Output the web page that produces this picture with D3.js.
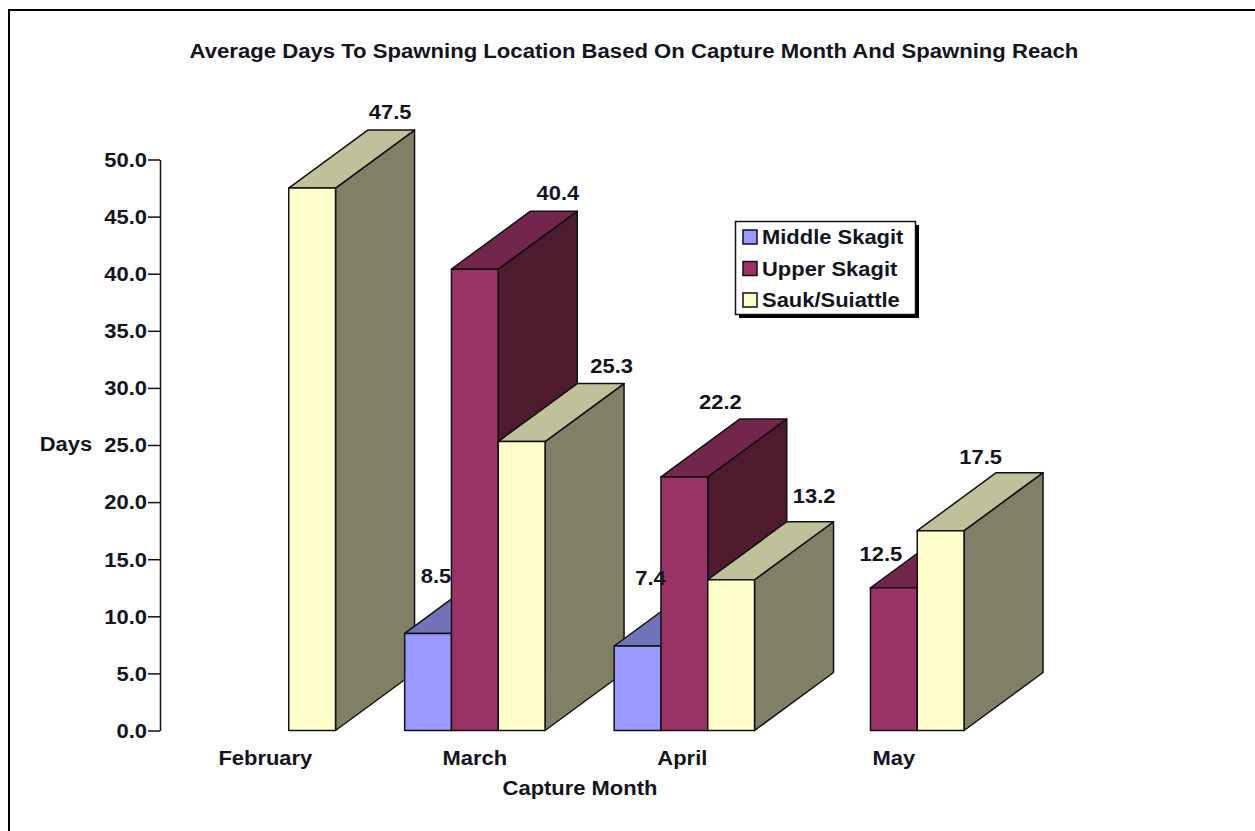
<!DOCTYPE html>
<html><head><meta charset="utf-8">
<script src="https://cdn.jsdelivr.net/npm/d3@7"></script>
<style>html,body{margin:0;padding:0;background:#fff}svg{display:block}text{font-family:"Liberation Sans",Arial,sans-serif;font-weight:bold;fill:#14141f}</style>
</head><body><svg id="c" width="1255" height="831"></svg>
<script>
const title = "Average Days To Spawning Location Based On Capture Month And Spawning Reach";
const months = ["February","March","April","May"];
const series = ["Middle Skagit","Upper Skagit","Sauk/Suiattle"];
const middleSkagit = [null,8.5,7.4,null];
const upperSkagit = [null,40.4,22.2,12.5];
const saukSuiattle = [47.5,25.3,13.2,17.5];
const yTicks = [0,5,10,15,20,25,30,35,40,45,50];
const values = [middleSkagit,upperSkagit,saukSuiattle];

const svg = d3.select("#c");
const FS=19.5, STRETCH=1.125;
// text in the reference is horizontally stretched
function widen(sel,k=STRETCH){ sel.each(function(){ const n=this.getComputedTextLength(); d3.select(this).attr("textLength",n*k).attr("lengthAdjust","spacingAndGlyphs"); }); return sel; }

svg.append("path").attr("d","M9,831V10H1255").attr("fill","none").attr("stroke","#000").attr("stroke-width",2);

const y = d3.scaleLinear().domain([0,50]).range([730.5,159.5]);
const x0 = d3.scaleBand().domain(months).range([160.6,998.6]).paddingInner(0.33).paddingOuter(0.165);
const x1 = d3.scaleBand().domain(series).range([0,x0.bandwidth()]);
const color = d3.scaleOrdinal().domain(series).range(["#9999ff","#993366","#ffffcc"]);
const topC = d3.scaleOrdinal().domain(series).range(["#7073b8","#72264c","#c0c09a"]);
const sideC = d3.scaleOrdinal().domain(series).range(["#4d4d80","#4d1a2e","#808066"]);
const DX=79, DY=58;
const nudge = {"February|Sauk/Suiattle":[0,1],"March|Middle Skagit":[-70,20],"March|Upper Skagit":[5,1],"March|Sauk/Suiattle":[12,1],
 "April|Middle Skagit":[-65,9],"April|Upper Skagit":[-42,2],"April|Sauk/Suiattle":[5,-7],"May|Upper Skagit":[-91,43],"May|Sauk/Suiattle":[-38,3]};

const plot = svg.append("g").attr("stroke","#111").attr("stroke-width",1.5).attr("stroke-linejoin","round");
const labels=[];
months.forEach((m,i)=>{
  series.forEach((s,j)=>{
    const v=values[j][i];
    if(v==null) return;
    const xl=x0(m)+x1(s), xr=xl+x1.bandwidth(), yt=y(v), yb=y(0);
    plot.append("path").attr("fill",sideC(s)).attr("d",d3.line()([[xr,yt],[xr+DX,yt-DY],[xr+DX,yb-DY],[xr,yb]])+"Z");
    plot.append("path").attr("fill",topC(s)).attr("d",d3.line()([[xl,yt],[xl+DX,yt-DY],[xr+DX,yt-DY],[xr,yt]])+"Z");
    plot.append("rect").attr("x",xl).attr("y",yt).attr("width",xr-xl).attr("height",yb-yt).attr("fill",color(s));
    const n=nudge[m+"|"+s];
    labels.push({t:v.toFixed(1),x:(xl+xr)/2+DX-1+n[0],y:yt-DY-12+n[1]});
  });
});
labels.forEach(l=>widen(svg.append("text").attr("x",l.x).attr("y",l.y).attr("text-anchor","middle").attr("font-size",FS).text(l.t)));

const ax = svg.append("g").attr("transform","translate(160,0)").call(d3.axisLeft(y).tickValues(yTicks).tickFormat(d3.format(".1f")).tickSize(12).tickSizeOuter(0));
ax.selectAll("path,line").attr("stroke","#111").attr("stroke-width",1.5);
ax.selectAll("text").attr("font-size",FS).attr("x",-13).attr("dy","0.35em").style("font-family",'"Liberation Sans",Arial,sans-serif').style("font-weight","bold").attr("fill","#14141f");
widen(ax.selectAll("text"));

widen(svg.append("text").attr("x",634).attr("y",58).attr("text-anchor","middle").attr("font-size",FS).text(title),1.134);
widen(svg.append("text").attr("x",66).attr("y",451).attr("text-anchor","middle").attr("font-size",FS).text("Days"));
widen(svg.append("text").attr("x",580).attr("y",795).attr("text-anchor","middle").attr("font-size",FS).text("Capture Month"));
const labX=[0,0,-2,0];
months.forEach((m,i)=>widen(svg.append("text").attr("x",x0(m)+x0.bandwidth()/2+labX[i]).attr("y",765).attr("text-anchor","middle").attr("font-size",FS).text(m)));

const lg=svg.append("g");
lg.append("rect").attr("x",739).attr("y",225).attr("width",180).attr("height",93).attr("fill","#000");
lg.append("rect").attr("x",735.5).attr("y",221.5).attr("width",180).attr("height",93).attr("fill","#fff").attr("stroke","#111").attr("stroke-width",1.5);
series.forEach((s,i)=>{
  const yy=237+i*31.5;
  lg.append("rect").attr("x",743).attr("y",yy-7).attr("width",14).attr("height",14).attr("fill",color(s)).attr("stroke","#111").attr("stroke-width",1.5);
  widen(lg.append("text").attr("x",762).attr("y",yy+7).attr("font-size",FS).text(s));
});
</script></body></html>
